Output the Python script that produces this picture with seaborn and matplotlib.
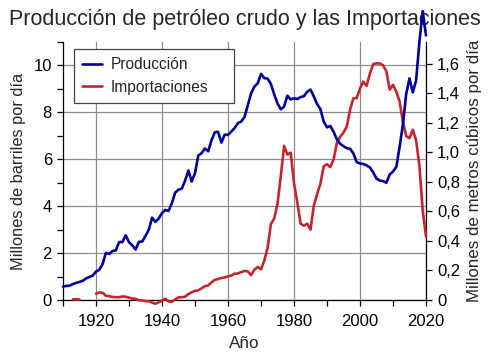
import numpy as np
import pandas as pd
import matplotlib
matplotlib.use("Agg")
import matplotlib.pyplot as plt
from matplotlib.ticker import MultipleLocator, FuncFormatter
import seaborn as sns

# -------------------------------
# Data (million barrels per day)
# -------------------------------

years = list(range(1910, 2021))

production = [
    0.57, 0.60, 0.61, 0.68, 0.73, 0.77, 0.82, 0.92, 0.98, 1.04,   # 1910s
    1.21, 1.29, 1.53, 2.01, 1.96, 2.09, 2.11, 2.47, 2.47, 2.76,   # 1920s
    2.46, 2.33, 2.15, 2.48, 2.49, 2.73, 3.00, 3.51, 3.33, 3.47,   # 1930s
    3.71, 3.84, 3.80, 4.13, 4.58, 4.70, 4.75, 5.09, 5.52, 5.05,   # 1940s
    5.41, 6.16, 6.26, 6.46, 6.34, 6.81, 7.15, 7.17, 6.71, 7.05,   # 1950s
    7.04, 7.18, 7.33, 7.54, 7.61, 7.80, 8.30, 8.81, 9.10, 9.24,   # 1960s
    9.64, 9.46, 9.44, 9.21, 8.77, 8.38, 8.13, 8.25, 8.71, 8.55,   # 1970s
    8.60, 8.57, 8.65, 8.69, 8.88, 8.97, 8.68, 8.35, 8.14, 7.61,   # 1980s
    7.36, 7.42, 7.17, 6.85, 6.66, 6.56, 6.47, 6.45, 6.25, 5.88,   # 1990s
    5.82, 5.80, 5.74, 5.65, 5.44, 5.18, 5.09, 5.07, 5.00, 5.35,   # 2000s
    5.48, 5.67, 6.52, 7.49, 8.79, 9.45, 8.85, 9.36, 10.99, 12.32, # 2010s
    11.28,
]

nan = np.nan
imports = [
    nan, nan, nan, 0.03, 0.03, 0.02, nan, nan, nan, nan,          # 1910s
    0.27, 0.32, 0.31, 0.18, 0.16, 0.13, 0.12, 0.12, 0.15, 0.14,   # 1920s
    0.10, 0.06, 0.05, -0.01, -0.02, -0.05, -0.05, -0.11, -0.16, -0.10,  # 1930s
    -0.02, 0.05, -0.06, -0.08, 0.03, 0.11, 0.12, 0.14, 0.25, 0.33,  # 1940s
    0.39, 0.41, 0.50, 0.59, 0.62, 0.75, 0.86, 0.89, 0.94, 0.96,   # 1950s
    1.01, 1.04, 1.12, 1.13, 1.19, 1.24, 1.22, 1.06, 1.29, 1.41,   # 1960s
    1.31, 1.68, 2.22, 3.24, 3.47, 4.10, 5.28, 6.57, 6.20, 6.28,   # 1970s
    4.98, 4.17, 3.25, 3.17, 3.25, 3.00, 4.02, 4.52, 4.95, 5.70,   # 1980s
    5.79, 5.67, 5.99, 6.69, 6.96, 7.14, 7.40, 8.12, 8.60, 8.61,   # 1990s
    9.02, 9.31, 9.13, 9.65, 10.06, 10.09, 10.09, 10.00, 9.75, 8.97,  # 2000s
    9.17, 8.89, 8.46, 7.60, 6.99, 6.90, 7.26, 6.81, 5.72, 3.82,   # 2010s
    2.70,
]

series_labels = ["Producción", "Importaciones"]
title = "Producción de petróleo crudo y las Importaciones"
m3_per_barrel = 0.158987

df = pd.DataFrame({"Año": years, "Producción": production, "Importaciones": imports})

# split imports into contiguous runs so the gaps stay empty
df["tramo"] = df["Importaciones"].isna().cumsum()

# -------------------------------
# Style
# -------------------------------

sns.set_style("white")
plt.rcParams["font.family"] = ["Liberation Sans", "DejaVu Sans"]

blue = "#00009c"
red = "#c4262e"
lw = 1.9

fig = plt.figure(figsize=(5, 3.6), dpi=100)
ax = fig.add_axes([0.126, 0.1667, 0.726, 0.7166])

sns.lineplot(data=df, x="Año", y="Producción", color=blue, linewidth=lw,
             label=series_labels[0], ax=ax, clip_on=False, zorder=4)

first = True
for _, seg in df.dropna(subset=["Importaciones"]).groupby("tramo"):
    sns.lineplot(data=seg, x="Año", y="Importaciones", color=red, linewidth=lw,
                 label=series_labels[1] if first else None, ax=ax,
                 clip_on=False, zorder=3)
    first = False

# -------------------------------
# Axes
# -------------------------------

ax.set_xlim(1910, 2020)
ax.set_ylim(0, 11)
ax.xaxis.set_major_locator(MultipleLocator(20))
ax.xaxis.set_minor_locator(MultipleLocator(10))
ax.yaxis.set_major_locator(MultipleLocator(2))
ax.yaxis.set_minor_locator(MultipleLocator(1))
ax.grid(True, which="major", color="#8c8c8c", linewidth=0.9)
ax.set_axisbelow(True)

ax.tick_params(which="both", direction="out", length=4, width=0.9,
               labelsize=12, pad=4, left=True, bottom=True, colors="black")
ax.tick_params(axis="x", pad=6)
ax.set_xlabel("Año", fontsize=12.3, labelpad=5)
ax.set_ylabel("Millones de barriles por día", fontsize=11.8, labelpad=5)
ax.set_title(title, fontsize=15.5, pad=12)

for side in ["left", "bottom"]:
    ax.spines[side].set_color("black")
    ax.spines[side].set_linewidth(0.9)
ax.spines["top"].set_visible(False)
ax.spines["right"].set_visible(False)

# right axis in million cubic metres per day
ax2 = ax.twinx()
ax2.set_ylim(0, 11 * m3_per_barrel)
ax2.yaxis.set_major_locator(MultipleLocator(0.2))
ax2.yaxis.set_major_formatter(
    FuncFormatter(lambda v, p: "0" if abs(v) < 1e-9 else f"{v:.1f}".replace(".", ",")))
ax2.tick_params(direction="out", length=4, width=0.9, labelsize=12, pad=4,
                right=True, colors="black")
ax2.set_ylabel("Millones de metros cúbicos por día", fontsize=12.2, labelpad=5)
ax2.spines["right"].set_color("black")
ax2.spines["right"].set_linewidth(0.9)
ax2.spines["top"].set_visible(False)
ax2.spines["left"].set_visible(False)
ax2.spines["bottom"].set_visible(False)
ax2.grid(False)

ax.set_zorder(ax2.get_zorder() + 1)
ax.patch.set_visible(False)

leg = ax.legend(loc="upper left", bbox_to_anchor=(0.030, 0.5, 0.441, 0.472),
                mode="expand", borderaxespad=0, fontsize=11.2, frameon=True,
                fancybox=False, framealpha=1, edgecolor="#444444",
                handlelength=1.3, handletextpad=0.55, labelspacing=0.5,
                borderpad=0.5)
leg.get_frame().set_linewidth(0.9)

fig.savefig("out.png", dpi=100)
